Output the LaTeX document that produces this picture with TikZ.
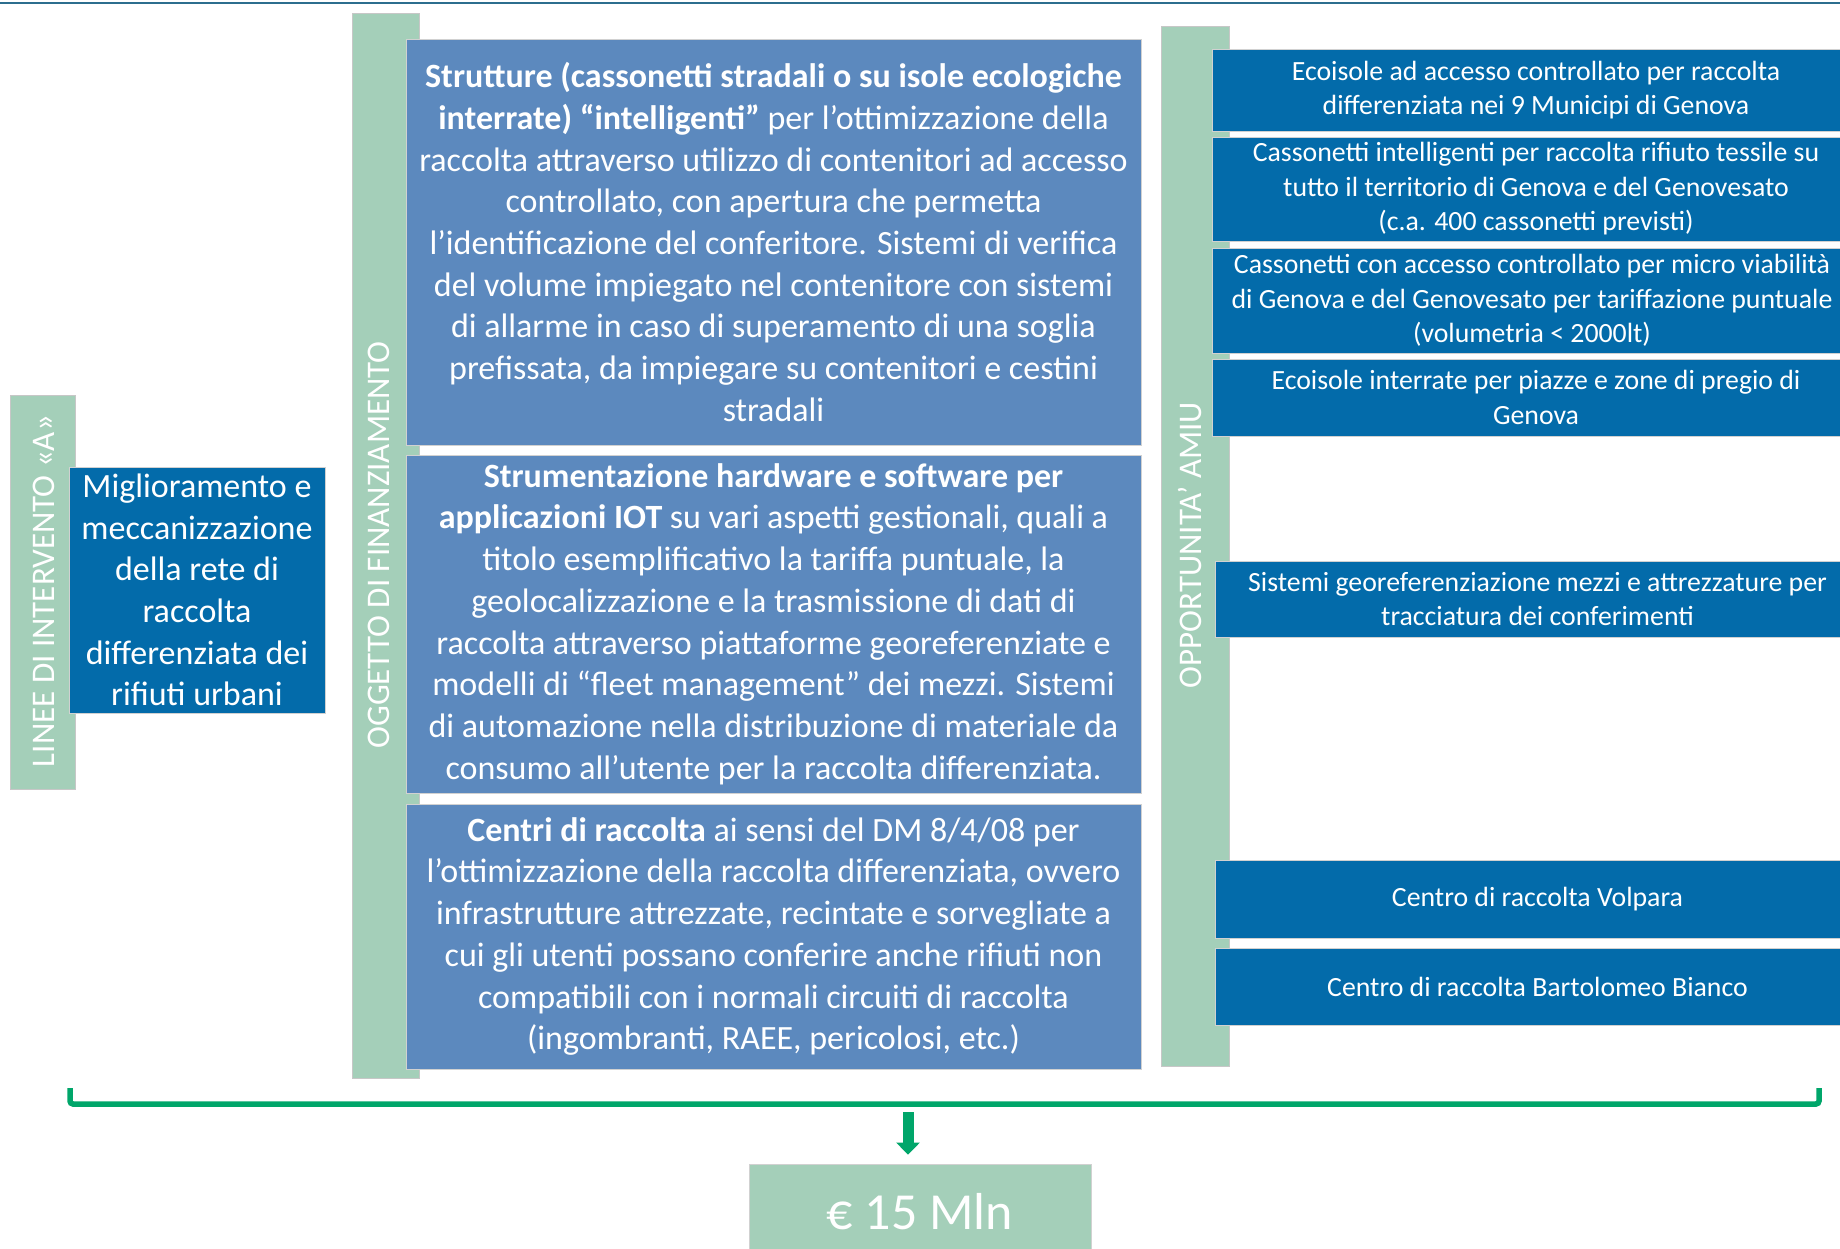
\documentclass[tikz,border=0pt]{standalone}
\usepackage{fontspec}
\setmainfont{Carlito}
\usetikzlibrary{arrows.meta}
\definecolor{bargreen}{RGB}{164,207,185}
\definecolor{midblue}{RGB}{92,137,190}
\definecolor{darkblue}{RGB}{3,107,170}
\definecolor{brgreen}{RGB}{0,166,106}
\definecolor{topline}{RGB}{44,110,142}
\tikzset{
  bar/.style={fill=bargreen, draw=black!22, line width=0.8pt, inner sep=0pt, anchor=center},
  bartext/.style={rotate=90, text=white, inner sep=0pt, font=\fontsize{33}{40}\selectfont},
  midbox/.style={fill=midblue, draw=black!18, line width=0.8pt, inner sep=0pt, anchor=center,
    text=white, align=center, font=\fontsize{34}{41.7}\selectfont},
  darkbox/.style={fill=darkblue, draw=black!18, line width=0.8pt, inner sep=0pt, anchor=center,
    text=white, align=center, font=\fontsize{27.8}{34.5}\selectfont},
  bracketline/.style={draw=brgreen, line width=5.5pt, rounded corners=3pt},
  bigarrow/.style={draw=brgreen, line width=11pt, -{Triangle[width=23pt,length=12pt]}},
}
\begin{document}
\begin{tikzpicture}[x=1pt,y=-1pt]
\useasboundingbox (0,0) rectangle (1840,1249);
\clip (0,0) rectangle (1840,1249);
\fill[white] (0,0) rectangle (1840,1249);
% top rule
\draw[topline, line width=2.5pt] (0,3) -- (1840,3);

% left column
\node[bar, minimum width=65pt, minimum height=394pt] (linee) at (43,592) {};
\node[bartext] (lineelab) at (44,591) {LINEE DI INTERVENTO «A»};
\node[midbox, fill=darkblue, minimum width=256pt, minimum height=246pt] (migl) at (197,590)
  {Miglioramento e\\meccanizzazione\\della rete di\\raccolta\\differenziata dei\\rifiuti urbani};

% middle column
\node[bar, minimum width=67pt, minimum height=1065pt] (ogg) at (385.5,545.5) {};
\node[bartext] (ogglab) at (379,545) {OGGETTO DI FINANZIAMENTO};

\node[midbox, minimum width=735pt, minimum height=406pt] (b1) at (773.5,242)
  {\textbf{Strutture (cassonetti stradali o su isole ecologiche}\\
   \textbf{interrate) “intelligenti”} per l’ottimizzazione della\\
   raccolta attraverso utilizzo di contenitori ad accesso\\
   controllato, con apertura che permetta\\
   l’identificazione del conferitore. Sistemi di verifica\\
   del volume impiegato nel contenitore con sistemi\\
   di allarme in caso di superamento di una soglia\\
   prefissata, da impiegare su contenitori e cestini\\
   stradali};
\node[midbox, minimum width=735pt, minimum height=338pt] (b2) at (773.5,624)
  {\textbf{Strumentazione hardware e software per}\\
   \textbf{applicazioni IOT} su vari aspetti gestionali, quali a\\
   titolo esemplificativo la tariffa puntuale, la\\
   geolocalizzazione e la trasmissione di dati di\\
   raccolta attraverso piattaforme georeferenziate e\\
   modelli di “fleet management” dei mezzi. Sistemi\\
   di automazione nella distribuzione di materiale da\\
   consumo all’utente per la raccolta differenziata.};
\node[midbox, minimum width=735pt, minimum height=265pt] (b3) at (773.5,936.5)
  {\textbf{Centri di raccolta} ai sensi del DM 8/4/08 per\\
   l’ottimizzazione della raccolta differenziata, ovvero\\
   infrastrutture attrezzate, recintate e sorvegliate a\\
   cui gli utenti possano conferire anche rifiuti non\\
   compatibili con i normali circuiti di raccolta\\
   (ingombranti, RAEE, pericolosi, etc.)};

% right column
\node[bar, minimum width=68pt, minimum height=1040pt] (opp) at (1195,546) {};
\node[bartext] (opplab) at (1190,545) {OPPORTUNITA’ AMIU};

\node[darkbox, minimum width=648pt, minimum height=82pt] (ra) at (1536,90)
  {Ecoisole ad accesso controllato per raccolta\\differenziata nei 9 Municipi di Genova};
\node[darkbox, minimum width=648pt, minimum height=104pt] (rb) at (1536,189)
  {Cassonetti intelligenti per raccolta rifiuto tessile su\\tutto il territorio di Genova e del Genovesato\\(c.a. 400 cassonetti previsti)};
\node[darkbox, minimum width=640pt, minimum height=105pt] (rc) at (1532,300.5)
  {Cassonetti con accesso controllato per micro viabilità\\di Genova e del Genovesato per tariffazione puntuale\\(volumetria < 2000lt)};
\node[darkbox, minimum width=648pt, minimum height=77pt] (rd) at (1536,397.5)
  {Ecoisole interrate per piazze e zone di pregio di\\Genova};
\node[darkbox, minimum width=645pt, minimum height=76pt] (re) at (1537.5,599)
  {Sistemi georeferenziazione mezzi e attrezzature per\\tracciatura dei conferimenti};
\node[darkbox, minimum width=645pt, minimum height=78pt] (rf) at (1537.5,899)
  {Centro di raccolta Volpara};
\node[darkbox, minimum width=645pt, minimum height=77pt] (rg) at (1537.5,986.5)
  {Centro di raccolta Bartolomeo Bianco};

% bracket and total
\coordinate (bl) at (70,1088);
\coordinate (br) at (1819,1088);
\draw[bracketline] (bl) -- ++(0,16) -| (br);
\node[fill=bargreen, draw=black!18, line width=0.8pt, inner sep=0pt, minimum width=342pt, minimum height=96pt,
  text=white, font=\fontsize{52}{60}\selectfont] (money) at (920,1212) {€ 15 Mln};
\coordinate (arrtop) at (908,1112);
\draw[bigarrow, shorten >=9pt] (arrtop) -- (arrtop |- money.north);
\end{tikzpicture}
\end{document}
